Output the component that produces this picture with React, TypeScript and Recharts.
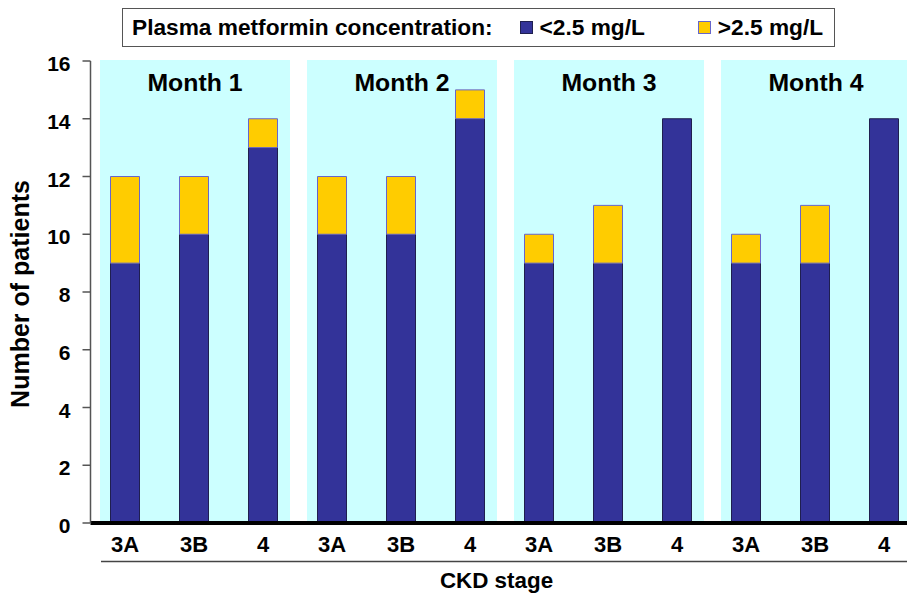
import React from "react";
import { BarChart, Bar, XAxis, YAxis, Legend, ReferenceArea } from "recharts";

const months = ["Month 1", "Month 2", "Month 3", "Month 4"];
const stages = ["3A", "3B", "4"];
// patients per month x stage, in the order 3A, 3B, 4
const belowLimit = [9, 10, 13, 10, 10, 14, 9, 9, 14, 9, 9, 14];
const aboveLimit = [3, 2, 1, 2, 2, 1, 1, 2, 0, 1, 2, 0];
const yTicks = [0, 2, 4, 6, 8, 10, 12, 14, 16];

const NAVY = "#333399";
const YELLOW = "#FFCC00";
const CYAN = "#CCFFFF";
const FONT = '"Liberation Sans", Arial, sans-serif';

const data = months.flatMap((m, mi) =>
  stages.map((s, si) => ({
    key: `${m}|${s}`,
    stage: s,
    below: belowLimit[mi * 3 + si],
    above: aboveLimit[mi * 3 + si],
  }))
);

function Panel(props: any) {
  const { x, y, width, height, title } = props;
  const px = x + 9.5;
  const pw = width - 17;
  return (
    <g>
      <rect x={px} y={y - 1} width={pw} height={height + 1} fill={CYAN} />
      <text
        x={px + pw / 2}
        y={y + 30}
        textAnchor="middle"
        fontSize={24.8}
        fontWeight="bold"
        fontFamily={FONT}
        fill="#000"
      >
        {title}
      </text>
    </g>
  );
}

function StageTick({ x, y, payload }: any) {
  return (
    <text x={x} y={y + 29} textAnchor="middle" fontSize={22} fontWeight="bold" fontFamily={FONT} fill="#000">
      {String(payload.value).split("|")[1]}
    </text>
  );
}

function CountTick({ x, y, payload }: any) {
  return (
    <text x={x} y={y + 10} textAnchor="end" fontSize={21} fontWeight="bold" fontFamily={FONT} fill="#000">
      {payload.value}
    </text>
  );
}

function StageLabel({ viewBox }: any) {
  const { x, y, width } = viewBox;
  return (
    <g>
      <line x1={x + 10.5} x2={x + width} y1={y + 38.5} y2={y + 38.5} stroke="#444" strokeWidth={1.5} />
      <text x={x + width / 2 - 8} y={y + 65} textAnchor="middle" fontSize={22.4} fontWeight="bold" fontFamily={FONT} fill="#000">
        CKD stage
      </text>
    </g>
  );
}

function CountLabel({ viewBox }: any) {
  const cx = 28.5;
  const cy = viewBox.y + viewBox.height / 2 + 2;
  return (
    <text
      x={cx}
      y={cy}
      transform={`rotate(-90, ${cx}, ${cy})`}
      textAnchor="middle"
      fontSize={25}
      fontWeight="bold"
      fontFamily={FONT}
      fill="#000"
    >
      Number of patients
    </text>
  );
}

function LegendBox({ payload }: any) {
  const items = payload || [];
  return (
    <div
      style={{
        width: 713,
        height: 39,
        boxSizing: "border-box",
        border: "1.5px solid #555",
        background: "#fff",
        display: "flex",
        alignItems: "center",
        fontFamily: FONT,
        fontWeight: "bold",
        fontSize: 22.7,
        color: "#000",
        paddingLeft: 9,
        whiteSpace: "nowrap",
      }}
    >
      <span style={{ marginRight: 27 }}>Plasma metformin concentration:</span>
      {items.map((it: any, i: number) => (
        <span key={it.value} style={{ display: "flex", alignItems: "center", marginRight: i === 0 ? 53 : 0 }}>
          <span
            style={{
              display: "inline-block",
              width: 13,
              height: 13,
              boxSizing: "border-box",
              background: it.color,
              border: `1px solid ${i === 0 ? "#1f1f4f" : "#6666cc"}`,
              marginRight: 7,
            }}
          />
          {it.value}
        </span>
      ))}
    </div>
  );
}

export default function App() {
  return (
    <div style={{ position: "absolute", left: 0, top: 0, width: 907, height: 593, overflow: "hidden", background: "#fff" }}>
      <BarChart
        width={930}
        height={593}
        data={data}
        margin={{ top: 61, right: 11.5, bottom: 0, left: 0 }}
        style={{ fontFamily: FONT }}
      >
        {months.map((m) => (
          <ReferenceArea
            key={m}
            x1={`${m}|3A`}
            x2={`${m}|4`}
            y1={0}
            y2={16}
            shape={(p: any) => <Panel {...p} title={m} />}
          />
        ))}
        <XAxis
          dataKey="key"
          height={70}
          interval={0}
          tickLine={false}
          tickSize={0}
          tickMargin={0}
          axisLine={{ stroke: "#000", strokeWidth: 4 }}
          tick={<StageTick />}
          label={<StageLabel />}
        />
        <YAxis
          width={90.5}
          domain={[0, 16]}
          ticks={yTicks}
          interval={0}
          tickSize={8}
          tickMargin={12}
          axisLine={{ stroke: "#555", strokeWidth: 1.5 }}
          tickLine={{ stroke: "#555", strokeWidth: 1.5 }}
          tick={<CountTick />}
          label={<CountLabel />}
        />
        <Legend
          layout="horizontal"
          verticalAlign="middle"
          align="center"
          content={<LegendBox />}
          wrapperStyle={{ position: "absolute", top: 8, left: 122, width: 713, height: 39 }}
        />
        <Bar dataKey="below" name="<2.5 mg/L" stackId="a" fill={NAVY} stroke="#1f1f4f" strokeWidth={1} barSize={29} isAnimationActive={false} />
        <Bar dataKey="above" name=">2.5 mg/L" stackId="a" fill={YELLOW} stroke="#6666cc" strokeWidth={1} barSize={29} isAnimationActive={false} />
      </BarChart>
    </div>
  );
}
